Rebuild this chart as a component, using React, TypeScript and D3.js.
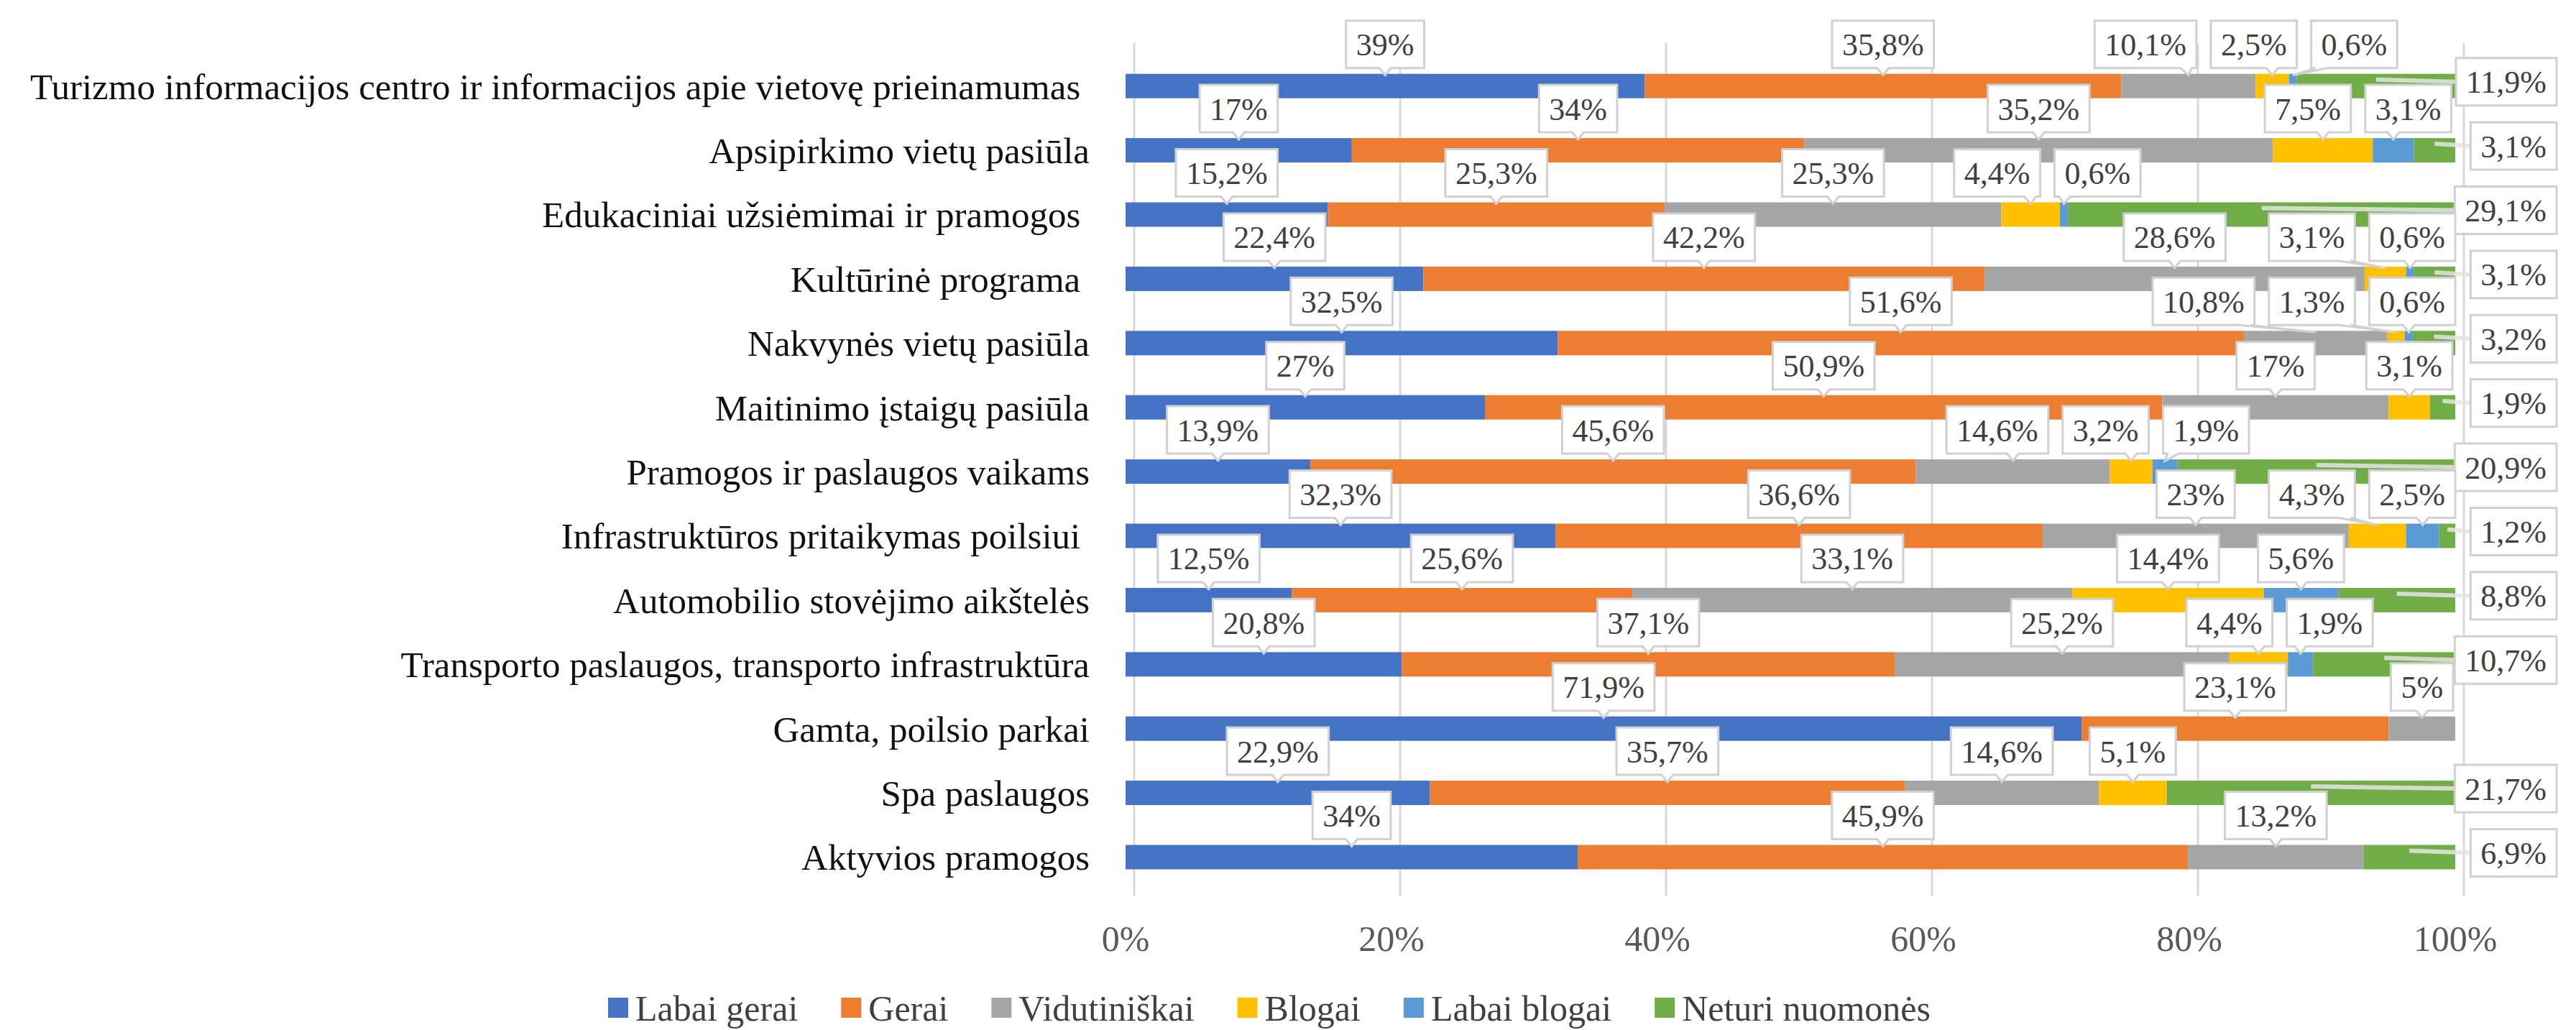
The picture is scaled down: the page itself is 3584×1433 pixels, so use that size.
import React, { useEffect, useRef } from 'react'
import * as d3 from 'd3'

// categories, top to bottom
const categories = [
  'Turizmo informacijos centro ir informacijos apie vietovę prieinamumas ',
  'Apsipirkimo vietų pasiūla',
  'Edukaciniai užsiėmimai ir pramogos ',
  'Kultūrinė programa ',
  'Nakvynės vietų pasiūla',
  'Maitinimo įstaigų pasiūla',
  'Pramogos ir paslaugos vaikams',
  'Infrastruktūros pritaikymas poilsiui ',
  'Automobilio stovėjimo aikštelės',
  'Transporto paslaugos, transporto infrastruktūra',
  'Gamta, poilsio parkai',
  'Spa paslaugos',
  'Aktyvios pramogos',
]

const seriesNames = ['Labai gerai', 'Gerai', 'Vidutiniškai', 'Blogai', 'Labai blogai', 'Neturi nuomonės']

const labaiGerai = [39, 17, 15.2, 22.4, 32.5, 27, 13.9, 32.3, 12.5, 20.8, 71.9, 22.9, 34]
const gerai = [35.8, 34, 25.3, 42.2, 51.6, 50.9, 45.6, 36.6, 25.6, 37.1, 23.1, 35.7, 45.9]
const vidutiniskai = [10.1, 35.2, 25.3, 28.6, 10.8, 17, 14.6, 23, 33.1, 25.2, 5, 14.6, 13.2]
const blogai = [2.5, 7.5, 4.4, 3.1, 1.3, 3.1, 3.2, 4.3, 14.4, 4.4, 0, 5.1, 0]
const labaiBlogai = [0.6, 3.1, 0.6, 0.6, 0.6, 0, 1.9, 2.5, 5.6, 1.9, 0, 0, 0]
const neturiNuomones = [11.9, 3.1, 29.1, 3.1, 3.2, 1.9, 20.9, 1.2, 8.8, 10.7, 0, 21.7, 6.9]

const ticks = [0, 0.2, 0.4, 0.6, 0.8, 1]
const tickLabels = ['0%', '20%', '40%', '60%', '80%', '100%']

const colors = ['#4472C4', '#ED7D31', '#A5A5A5', '#FFC000', '#5B9BD5', '#70AD47']

const W = 3584
const H = 1433
const FONT = '"Liberation Serif", "Times New Roman", serif'

const fmt = (v: number) => String(v).replace('.', ',') + '%'

export default function App() {
  const ref = useRef<SVGSVGElement>(null)

  useEffect(() => {
    const svg = d3.select(ref.current)
    svg.selectAll('*').remove()

    const allSeries = [labaiGerai, gerai, vidutiniskai, blogai, labaiBlogai, neturiNuomones]
    const rows = categories.map((c, i) => {
      const r: any = { category: c }
      seriesNames.forEach((s, k) => { r[s] = allSeries[k][i] })
      return r
    })

    // 100% stacked
    const stacked = d3.stack().keys(seriesNames).offset(d3.stackOffsetExpand)(rows)

    const x = d3.scaleLinear().domain([0, 1]).range([1566, 3416])
    const step = 89.4
    const y = d3.scaleBand().domain(categories)
      .range([75, 75 + step * categories.length])
      .paddingInner(0.62).paddingOuter(0.31)
    const bw = y.bandwidth()

    // grid lines
    svg.append('g').selectAll('line')
      .data(ticks).enter().append('line')
      .attr('x1', d => x(d) + 12).attr('x2', d => x(d) + 12)
      .attr('y1', 60).attr('y2', 1247)
      .attr('stroke', '#d9d9d9').attr('stroke-width', 3)

    // tick labels
    svg.append('g').selectAll('text')
      .data(ticks).enter().append('text')
      .attr('x', d => x(d)).attr('y', 1305).attr('dy', '0.35em')
      .attr('text-anchor', 'middle')
      .attr('font-family', FONT).attr('font-size', 50).attr('fill', '#595959')
      .text((d, i) => tickLabels[i])

    // category labels
    svg.append('g').selectAll('text')
      .data(categories).enter().append('text')
      .attr('x', 1516).attr('y', d => y(d)! + bw / 2).attr('dy', '0.35em')
      .attr('text-anchor', 'end')
      .style('white-space', 'pre')
      .attr('font-family', FONT).attr('font-size', 51).attr('fill', '#111')
      .text(d => d)

    // bars
    svg.append('g').selectAll('g')
      .data(stacked).enter().append('g')
      .attr('fill', (d, i) => colors[i])
      .selectAll('rect')
      .data(d => d).enter().append('rect')
      .attr('x', d => x(d[0]))
      .attr('width', d => Math.max(0, x(d[1]) - x(d[0])))
      .attr('y', d => y(d.data.category as string)!)
      .attr('height', bw)

    // data callouts
    const labelLayer = svg.append('g')
      .attr('font-family', FONT).attr('font-size', 44).attr('fill', '#404040')
    const boxH = 66
    const padX = 14
    const gap = 20
    const last = seriesNames.length - 1

    categories.forEach((c, i) => {
      const top = y(c)!
      const g = labelLayer.append('g')
      const items: any[] = []
      for (let k = 0; k < last; k++) {
        const v = allSeries[k][i]
        if (!v) continue
        const seg = stacked[k][i]
        const tip = x((seg[0] + seg[1]) / 2)
        const lg = g.append('g')
        const path = lg.append('path').attr('fill', '#fff').attr('stroke', '#d0d0d0').attr('stroke-width', 3)
        const t = lg.append('text').attr('text-anchor', 'middle').text(fmt(v))
        const w = (t.node() as SVGTextElement).getComputedTextLength() + padX * 2
        items.push({ tip, c: tip, w, path, t })
      }
      // spread overlapping boxes
      const xMin = x(0) - 20
      const xMax = x(1)
      for (let it = 0; it < 200; it++) {
        for (let j = 1; j < items.length; j++) {
          const a = items[j - 1], b = items[j]
          const ov = (a.c + a.w / 2 + gap) - (b.c - b.w / 2)
          if (ov > 0) { a.c -= ov / 2; b.c += ov / 2 }
        }
        if (items.length) {
          const l = items[items.length - 1]
          if (l.c + l.w / 2 > xMax) l.c = xMax - l.w / 2
          const f = items[0]
          if (f.c - f.w / 2 < xMin) f.c = xMin + f.w / 2
        }
      }
      const bBot = top - 8
      const bTop = bBot - boxH
      items.forEach(d => {
        const L = d.c - d.w / 2, R = d.c + d.w / 2
        const base = Math.max(L + 14, Math.min(R - 14, d.tip))
        const p = d3.path()
        p.moveTo(L, bTop); p.lineTo(R, bTop); p.lineTo(R, bBot)
        p.lineTo(base + 8, bBot); p.lineTo(d.tip, top + 2); p.lineTo(base - 8, bBot)
        p.lineTo(L, bBot); p.closePath()
        d.path.attr('d', p.toString())
        d.t.attr('x', d.c).attr('y', (bTop + bBot) / 2).attr('dy', '0.35em')
      })

      // last series: label to the right of the plot
      const v = allSeries[last][i]
      if (v) {
        const seg = stacked[last][i]
        const mid = x((seg[0] + seg[1]) / 2)
        const cy = top + bw / 2
        const lg = g.append('g')
        const leader = lg.append('line').attr('stroke', '#e4e4e4').attr('stroke-width', 6).attr('opacity', 0.85)
        const rect = lg.append('rect').attr('fill', '#fff').attr('stroke', '#d0d0d0').attr('stroke-width', 3)
        const t = lg.append('text').attr('text-anchor', 'middle').text(fmt(v))
        const w = (t.node() as SVGTextElement).getComputedTextLength() + padX * 2
        const R = x(1) + 141
        const L = R - w
        rect.attr('x', L).attr('y', cy - boxH / 2 - 6).attr('width', w).attr('height', boxH)
        leader.attr('x1', mid).attr('y1', top + 8).attr('x2', L).attr('y2', cy - 6)
        t.attr('x', (L + R) / 2).attr('y', cy - 6).attr('dy', '0.35em')
      }
    })

    // legend
    const legend = svg.append('g').attr('font-family', FONT).attr('font-size', 50).attr('fill', '#404040')
    const sq = 28
    const items = seriesNames.map((s, k) => {
      const lg = legend.append('g')
      lg.append('rect').attr('width', sq).attr('height', sq).attr('y', -sq / 2).attr('fill', colors[k])
      const t = lg.append('text').attr('x', sq + 10).attr('dy', '0.35em').text(s)
      const w = sq + 10 + (t.node() as SVGTextElement).getComputedTextLength()
      return { lg, w }
    })
    const total = d3.sum(items, d => d.w) + 60 * (items.length - 1)
    let cx = 1766 - total / 2
    items.forEach(d => {
      d.lg.attr('transform', `translate(${cx},1402)`)
      cx += d.w + 60
    })
  }, [])

  return (
    <svg ref={ref} width={W} height={H}
      style={{ position: 'absolute', left: 0, top: 0, background: '#fff' }} />
  )
}
